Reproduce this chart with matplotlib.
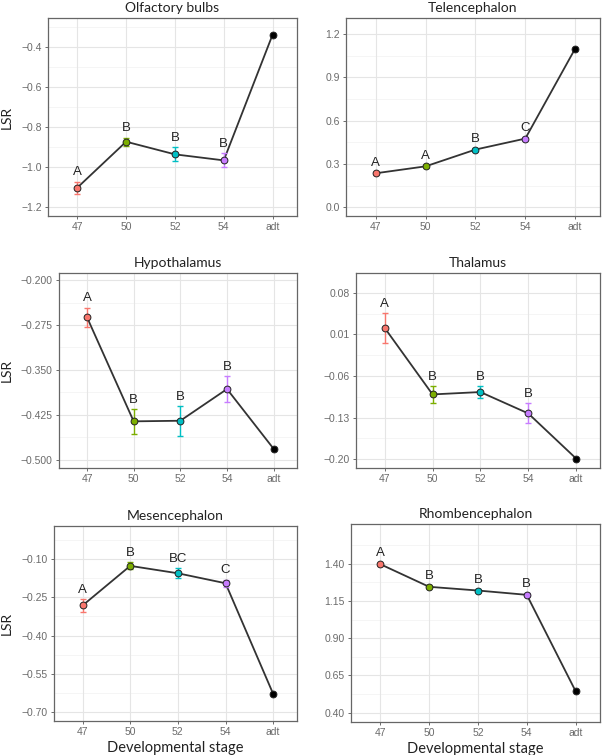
import numpy as np
import matplotlib
matplotlib.use("Agg")
import matplotlib.pyplot as plt
from matplotlib.ticker import FixedLocator

# ---------------- data ----------------
stages = ['47', '50', '52', '54', 'adt']
stage_colors = ['#F8766D', '#7CAE00', '#00BFC4', '#C77CFF', '#000000']

olf_mean = [-1.102, -0.873, -0.936, -0.966, -0.340]
olf_se = [0.030, 0.020, 0.035, 0.035, 0.0]
olf_letters = ['A', 'B', 'B', 'B', '']

tel_mean = [0.236, 0.284, 0.400, 0.476, 1.098]
tel_se = [0.010, 0.010, 0.010, 0.010, 0.0]
tel_letters = ['A', 'A', 'B', 'C', '']

hyp_mean = [-0.262, -0.436, -0.435, -0.382, -0.482]
hyp_se = [0.016, 0.021, 0.025, 0.022, 0.0]
hyp_letters = ['A', 'B', 'B', 'B', '']

thal_mean = [0.021, -0.091, -0.087, -0.123, -0.199]
thal_se = [0.025, 0.014, 0.010, 0.017, 0.0]
thal_letters = ['A', 'B', 'B', 'B', '']

mes_mean = [-0.282, -0.127, -0.156, -0.195, -0.628]
mes_se = [0.025, 0.014, 0.019, 0.014, 0.0]
mes_letters = ['A', 'B', 'BC', 'C', '']

rho_mean = [1.398, 1.246, 1.221, 1.192, 0.545]
rho_se = [0.010, 0.010, 0.010, 0.010, 0.0]
rho_letters = ['A', 'B', 'B', 'B', '']

titles = ['Olfactory bulbs', 'Telencephalon', 'Hypothalamus',
          'Thalamus', 'Mesencephalon', 'Rhombencephalon']
y_ticks = [
    [-1.2, -1.0, -0.8, -0.6, -0.4],
    [0.0, 0.3, 0.6, 0.9, 1.2],
    [-0.500, -0.425, -0.350, -0.275, -0.200],
    [-0.20, -0.13, -0.06, 0.01, 0.08],
    [-0.70, -0.55, -0.40, -0.25, -0.10],
    [0.40, 0.65, 0.90, 1.15, 1.40],
]
y_fmt = ['{:.1f}', '{:.1f}', '{:.3f}', '{:.2f}', '{:.2f}', '{:.2f}']
y_lims = [(-1.243, -0.257), (-0.06, 1.311), (-0.514, -0.188),
          (-0.215, 0.1136), (-0.734, 0.029), (0.3375, 1.668)]

means = [olf_mean, tel_mean, hyp_mean, thal_mean, mes_mean, rho_mean]
ses = [olf_se, tel_se, hyp_se, thal_se, mes_se, rho_se]
letters = [olf_letters, tel_letters, hyp_letters, thal_letters, mes_letters, rho_letters]

# panel boxes in pixels: left, right, top, bottom
W, H = 606, 755
boxes = [(48, 297, 18, 216), (346, 600, 18, 216),
         (59, 297, 273, 468), (356, 600, 273, 468),
         (54, 297, 526, 721), (351, 600, 524, 722)]

plt.rcParams['font.family'] = ['Liberation Sans', 'DejaVu Sans']

fig = plt.figure(figsize=(W / 100, H / 100), dpi=100)
fig.patch.set_facecolor('white')

x = np.arange(len(stages))

for k in range(6):
    l, r, t, b = boxes[k]
    ax = fig.add_axes([l / W, 1 - b / H, (r - l) / W, (b - t) / H])

    # grid like theme_bw
    lo = y_ticks[k][0]
    step = y_ticks[k][1] - y_ticks[k][0]
    minor = [v + step / 2 for v in y_ticks[k]] + [lo - step / 2]
    for v in minor:
        ax.axhline(v, color='#F2F2F2', lw=0.5, zorder=0)
    for v in y_ticks[k]:
        ax.axhline(v, color='#E5E5E5', lw=0.8, zorder=0)
    for v in x:
        ax.axvline(v, color='#E5E5E5', lw=0.8, zorder=0)

    m = means[k]
    s = ses[k]
    ax.plot(x, m, color='#333333', lw=1.3, zorder=2)
    for i in range(len(stages)):
        if s[i] > 0:
            ax.errorbar(x[i], m[i], yerr=s[i], color=stage_colors[i],
                        lw=1.0, capsize=2.0, capthick=1.0, zorder=3)
        ax.scatter(x[i], m[i], s=24, facecolor=stage_colors[i],
                   edgecolor='#222222', linewidth=0.7, zorder=4)
        if letters[k][i]:
            ax.annotate(letters[k][i], (x[i], m[i] + s[i]),
                        xytext=(0, 4.5), textcoords='offset points',
                        ha='center', va='baseline', fontsize=9.5,
                        color='#222222')

    ax.set_xlim(-0.6, 4.5)
    ax.set_ylim(*y_lims[k])
    ax.set_xticks(x)
    ax.set_xticklabels(stages)
    ax.yaxis.set_major_locator(FixedLocator(y_ticks[k]))
    ax.set_yticklabels([y_fmt[k].format(v).replace('-', '\u2212') for v in y_ticks[k]])
    ax.tick_params(axis='both', length=2.5, width=0.6, color='#555555',
                   labelsize=7.5, labelcolor='#6B6B6B', pad=2)
    for sp in ax.spines.values():
        sp.set_color('#666666')
        sp.set_linewidth(0.9)

    ax.set_title(titles[k], fontsize=10, color='#222222', pad=4.5,
                 family=['Lato', 'DejaVu Sans'])
    if k % 2 == 0:
        ax.set_ylabel('LSR', fontsize=10, color='#222222',
                      family=['Lato', 'DejaVu Sans'], labelpad=6)
    if k >= 4:
        ax.set_xlabel('Developmental stage', fontsize=10.5, color='#222222',
                      family=['Lato', 'DejaVu Sans'], labelpad=3)

fig.savefig('out.png', dpi=100, facecolor='white')
